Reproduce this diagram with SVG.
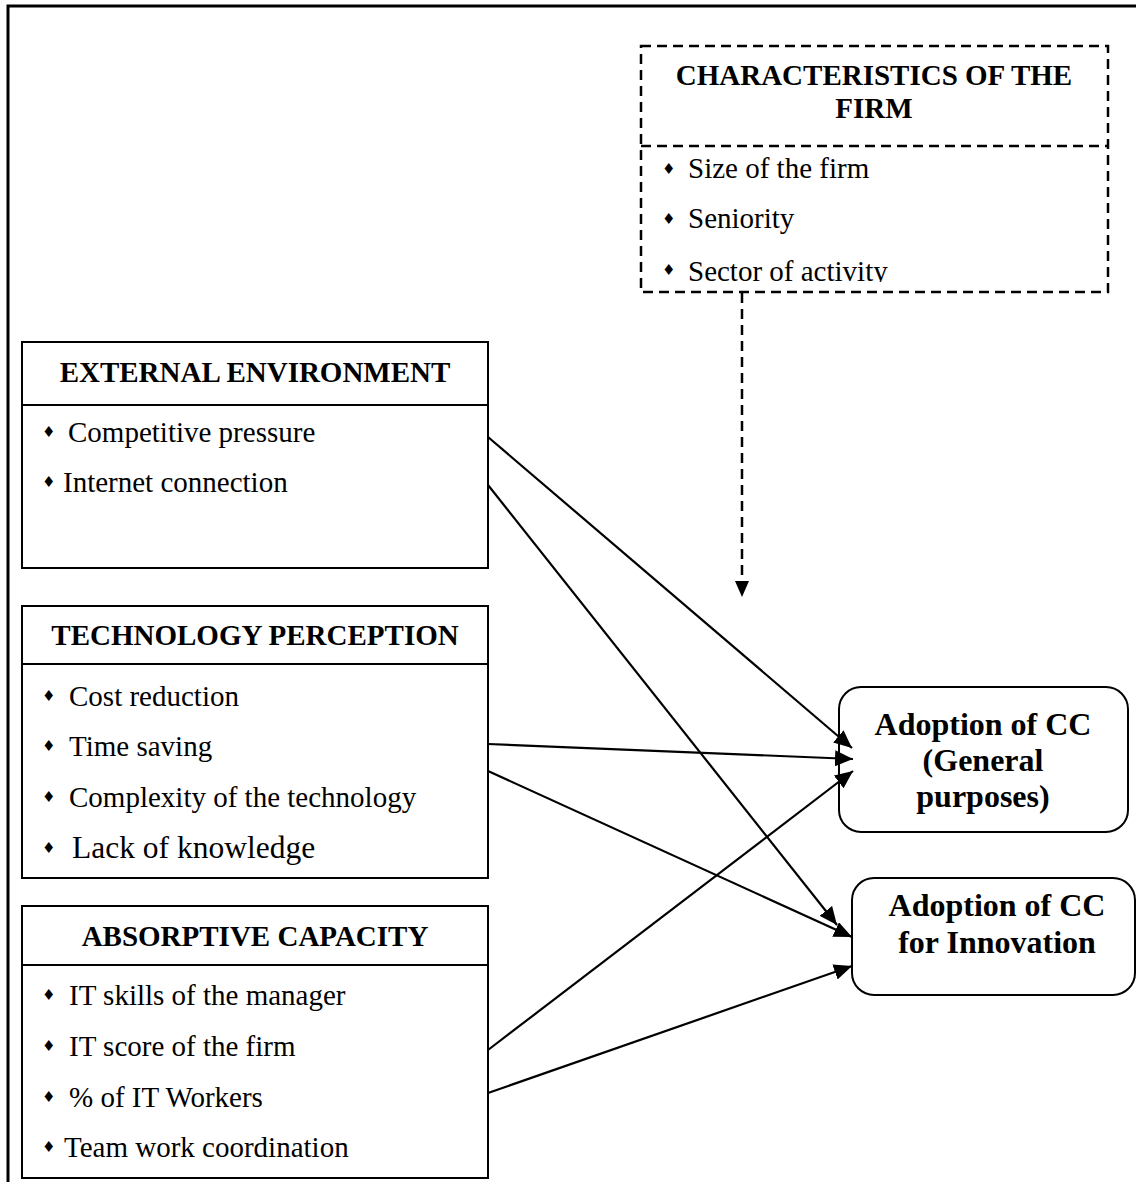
<svg xmlns="http://www.w3.org/2000/svg" width="1136" height="1182" viewBox="0 0 1136 1182">
<style>
.box{fill:#fff;stroke:#000;stroke-width:2}
.dbox{fill:none;stroke:#000;stroke-width:2.5;stroke-dasharray:10 6}
.t{font-family:"Liberation Serif","Times New Roman",serif;font-size:29px;fill:#000}
.b{font-family:"Liberation Serif","Times New Roman",serif;font-size:29px;font-weight:bold;fill:#000;text-anchor:middle}
.big{font-family:"Liberation Serif","Times New Roman",serif;font-size:32px;font-weight:bold;fill:#000;text-anchor:middle}
.bul{font-family:"DejaVu Sans",sans-serif;font-size:15px;fill:#000}
.con{fill:none;stroke:#000;stroke-width:2.2}
</style>
<defs>
<marker id="ah" markerUnits="userSpaceOnUse" markerWidth="19" markerHeight="16" refX="18" refY="8" orient="auto"><path d="M0,0 L18,8 L0,16 z" fill="#000"/></marker>
<clipPath id="clipc"><rect x="641" y="146" width="467" height="136"/></clipPath>
</defs>
<rect width="1136" height="1182" fill="#fff"/>
<path d="M8,1182 V6 H1136" fill="none" stroke="#000" stroke-width="3"/>

<g id="characteristics">
<rect class="dbox" x="641" y="46" width="467" height="246"/>
<line class="dbox" x1="641" y1="146" x2="1108" y2="146"/>
<text class="b" x="874" y="85">CHARACTERISTICS OF THE</text>
<text class="b" x="874" y="118">FIRM</text>
<g clip-path="url(#clipc)">
<text class="bul" x="662" y="174">♦</text><text class="t" x="688" y="178">Size of the firm</text>
<text class="bul" x="662" y="224">♦</text><text class="t" x="688" y="228">Seniority</text>
<text class="bul" x="662" y="275">♦</text><text class="t" x="688" y="281">Sector of activity</text>
</g>
</g>

<g id="external">
<rect class="box" x="22" y="342" width="466" height="226"/>
<line class="box" x1="22" y1="405" x2="488" y2="405"/>
<text class="b" x="255" y="382">EXTERNAL ENVIRONMENT</text>
<text class="bul" x="42" y="437">♦</text><text class="t" x="68" y="442">Competitive pressure</text>
<text class="bul" x="42" y="487">♦</text><text class="t" x="63" y="492">Internet connection</text>
</g>

<g id="technology">
<rect class="box" x="22" y="606" width="466" height="272"/>
<line class="box" x1="22" y1="664" x2="488" y2="664"/>
<text class="b" x="255" y="645">TECHNOLOGY PERCEPTION</text>
<text class="bul" x="42" y="701">♦</text><text class="t" x="69" y="706">Cost reduction</text>
<text class="bul" x="42" y="751">♦</text><text class="t" x="69" y="756">Time saving</text>
<text class="bul" x="42" y="802">♦</text><text class="t" x="69" y="807">Complexity of the technology</text>
<text class="bul" x="42" y="853">♦</text><text class="t" x="72" y="858" style="font-size:31.5px">Lack of knowledge</text>
</g>

<g id="absorptive">
<rect class="box" x="22" y="906" width="466" height="272"/>
<line class="box" x1="22" y1="965" x2="488" y2="965"/>
<text class="b" x="255" y="946">ABSORPTIVE CAPACITY</text>
<text class="bul" x="42" y="1000">♦</text><text class="t" x="69" y="1005">IT skills of the manager</text>
<text class="bul" x="42" y="1051">♦</text><text class="t" x="69" y="1056">IT score of the firm</text>
<text class="bul" x="42" y="1102">♦</text><text class="t" x="69" y="1107">% of IT Workers</text>
<text class="bul" x="42" y="1152">♦</text><text class="t" x="64" y="1157">Team work coordination</text>
</g>

<g id="adoption-general">
<rect class="box" x="839" y="687" width="289" height="145" rx="22"/>
<text class="big" x="983" y="735">Adoption of CC</text>
<text class="big" x="983" y="771">(General</text>
<text class="big" x="983" y="807">purposes)</text>
</g>

<g id="adoption-innovation">
<rect class="box" x="852" y="878" width="283" height="117" rx="22"/>
<text class="big" x="997" y="916">Adoption of CC</text>
<text class="big" x="997" y="953">for Innovation</text>
</g>

<g id="connectors">
<line class="con" x1="488" y1="437" x2="852" y2="748" marker-end="url(#ah)"/>
<line class="con" x1="488" y1="485" x2="837" y2="925" marker-end="url(#ah)"/>
<line class="con" x1="488" y1="744" x2="853" y2="759" marker-end="url(#ah)"/>
<line class="con" x1="488" y1="771" x2="852" y2="937" marker-end="url(#ah)"/>
<line class="con" x1="488" y1="1050" x2="853" y2="771" marker-end="url(#ah)"/>
<line class="con" x1="488" y1="1093" x2="852" y2="966" marker-end="url(#ah)"/>
<line class="dbox" x1="742" y1="293" x2="742" y2="584"/>
<path d="M735,581 L749,581 L742,597 z" fill="#000"/>
</g>
</svg>
